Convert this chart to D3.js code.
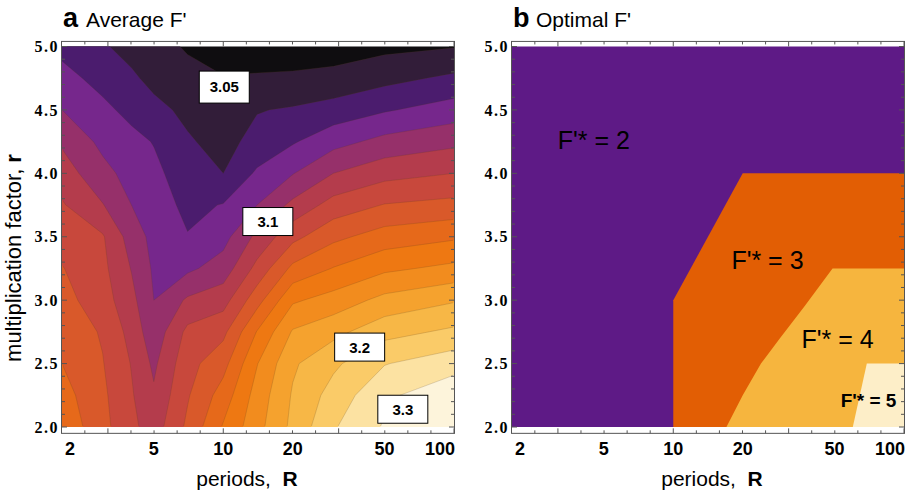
<!DOCTYPE html>
<html>
<head>
<meta charset="utf-8">
<script src="https://cdn.jsdelivr.net/npm/d3@7/dist/d3.min.js"></script>
<style>
  body { margin: 0; background: #ffffff; }
  text { font-family: "Liberation Sans", Arial, Helvetica, sans-serif; fill: #000; }
  .ytick { font-family: "Liberation Serif", "Times New Roman", serif; font-weight: bold; font-size: 16px; letter-spacing: 1.5px; }
  .xtick { font-weight: bold; font-size: 18px; }
  .frame { fill: none; stroke: #555; stroke-width: 1; }
  .tick { stroke: #555; stroke-width: 1; }
</style>
</head>
<body>
<svg id="chart" width="906" height="493"></svg>
<script>
// grid columns (periods R) and rows (multiplication factor r)
var periods = [2, 3, 4, 5, 7, 10, 14, 20, 30, 50, 100];
var factors = [2.0, 2.25, 2.5, 2.75, 3.0, 3.25, 3.5, 3.75, 4.0, 4.25, 4.5, 4.75, 5.0];

// average F', one row per factor (r = 2.0 first), one value per period
var averageF = [
    [3.195, 3.166, 3.145, 3.130, 3.164, 3.202, 3.233, 3.265, 3.298, 3.322, 3.348],
    [3.188, 3.164, 3.142, 3.123, 3.158, 3.189, 3.228, 3.262, 3.288, 3.316, 3.334],
    [3.180, 3.161, 3.139, 3.116, 3.153, 3.173, 3.219, 3.257, 3.276, 3.299, 3.312],
    [3.173, 3.158, 3.133, 3.107, 3.145, 3.155, 3.201, 3.242, 3.254, 3.273, 3.284],
    [3.167, 3.149, 3.126, 3.100, 3.123, 3.132, 3.172, 3.217, 3.228, 3.246, 3.258],
    [3.161, 3.145, 3.119, 3.097, 3.096, 3.109, 3.146, 3.185, 3.201, 3.216, 3.225],
    [3.151, 3.142, 3.111, 3.094, 3.081, 3.093, 3.125, 3.154, 3.175, 3.189, 3.197],
    [3.142, 3.121, 3.100, 3.090, 3.075, 3.081, 3.100, 3.125, 3.148, 3.161, 3.166],
    [3.130, 3.106, 3.093, 3.085, 3.069, 3.060, 3.083, 3.099, 3.120, 3.133, 3.140],
    [3.117, 3.095, 3.086, 3.079, 3.062, 3.054, 3.066, 3.078, 3.093, 3.106, 3.115],
    [3.100, 3.085, 3.074, 3.065, 3.056, 3.048, 3.059, 3.062, 3.068, 3.078, 3.089],
    [3.087, 3.073, 3.063, 3.055, 3.046, 3.041, 3.042, 3.043, 3.046, 3.054, 3.064],
    [3.074, 3.062, 3.054, 3.047, 3.038, 3.030, 3.030, 3.030, 3.030, 3.035, 3.039]
];

var contourLevels = [3.00, 3.04, 3.06, 3.08, 3.10, 3.12, 3.14, 3.16, 3.18,
                     3.20, 3.22, 3.24, 3.26, 3.28, 3.30, 3.32];
var bandColors = ["#0f0d10", "#321d39", "#4b1c6e", "#76278c", "#96306a", "#b43c4c",
                  "#c8483c", "#d9592a", "#e6691a", "#ee7812", "#f28c1e", "#f5a22e",
                  "#f7b746", "#facb68", "#fce2a2", "#fdf4db"];

var averageLabels = [
    {text: "3.05", R: 10.1, r: 4.68},
    {text: "3.1", R: 15.6, r: 3.62},
    {text: "3.2", R: 39, r: 2.63},
    {text: "3.3", R: 60, r: 2.14}
];

// optimal F' (panel b): lower-right region boundaries, closed through (100, 2)
var optimalBounds = [
    {value: 3, points: [[10, 2.0], [10, 3.0], [20, 4.0], [100, 4.0]]},
    {value: 4, points: [[17, 2.0], [20, 2.25], [24, 2.5], [29, 2.7], [37, 2.95], [49, 3.25], [100, 3.25]]},
    {value: 5, points: [[60, 2.0], [69, 2.5], [100, 2.5]]}
];
var optimalColors = {2: "#5e1a86", 3: "#e25e04", 4: "#f6b53e", 5: "#fdeec8"};
var optimalLabels = [
    {text: "F'* = 2", R: 4.53, r: 4.26, big: true},
    {text: "F'* = 3", R: 25.6, r: 3.32, big: true},
    {text: "F'* = 4", R: 51.5, r: 2.69, big: true},
    {text: "F'* = 5", R: 70.2, r: 2.21, big: false}
];

var xTickLabels = [2, 5, 10, 20, 50, 100];
var yTickLabels = [2.0, 2.5, 3.0, 3.5, 4.0, 4.5, 5.0];

var svg = d3.select("#chart");

var yScale = d3.scaleLinear().domain([2, 5]).range([427, 46.5]);
var frameTop = yScale(5.04);
var frameBottom = yScale(1.95);

var xA = d3.scaleLog().domain([2, 100]).range([62, 454]);
var xB = d3.scaleLog().domain([2, 100]).range([512, 904]);

function drawAxes(xScale, letter, title, titleShift) {
    var x0 = xScale.range()[0], x1 = xScale.range()[1];
    var g = svg.append("g");

    // frame
    g.append("rect")
        .attr("class", "frame")
        .attr("x", x0 - 0.5)
        .attr("y", frameTop)
        .attr("width", x1 - x0 + 1)
        .attr("height", frameBottom - frameTop);

    // x frame ticks, every 0.1 in log10(R)
    var logTicks = d3.range(4, 21);
    g.selectAll(".xt-top")
        .data(logTicks)
        .enter().append("line")
        .attr("class", "tick")
        .attr("x1", d => xScale(Math.pow(10, d / 10)))
        .attr("x2", d => xScale(Math.pow(10, d / 10)))
        .attr("y1", frameTop)
        .attr("y2", d => frameTop + (d % 5 === 0 ? 5 : 3));
    g.selectAll(".xt-bottom")
        .data(logTicks)
        .enter().append("line")
        .attr("class", "tick")
        .attr("x1", d => xScale(Math.pow(10, d / 10)))
        .attr("x2", d => xScale(Math.pow(10, d / 10)))
        .attr("y1", frameBottom)
        .attr("y2", d => frameBottom - (d % 5 === 0 ? 5 : 3));

    // y frame ticks, every 0.1 in r
    var rTicks = d3.range(20, 51);
    g.selectAll(".yt-left")
        .data(rTicks)
        .enter().append("line")
        .attr("class", "tick")
        .attr("x1", x0)
        .attr("x2", d => x0 + (d % 5 === 0 ? 5 : 3))
        .attr("y1", d => yScale(d / 10))
        .attr("y2", d => yScale(d / 10));
    g.selectAll(".yt-right")
        .data(rTicks)
        .enter().append("line")
        .attr("class", "tick")
        .attr("x1", x1)
        .attr("x2", d => x1 - (d % 5 === 0 ? 5 : 3))
        .attr("y1", d => yScale(d / 10))
        .attr("y2", d => yScale(d / 10));

    // tick labels
    g.selectAll(".xtick")
        .data(xTickLabels)
        .enter().append("text")
        .attr("class", "xtick")
        .attr("x", (d, i) => xScale(d) + (i === 0 ? 3 : i === xTickLabels.length - 1 ? 1 : 0))
        .attr("y", 455)
        .attr("text-anchor", (d, i) => i === 0 ? "start" : i === xTickLabels.length - 1 ? "end" : "middle")
        .text(d => d);

    g.selectAll(".ytick")
        .data(yTickLabels)
        .enter().append("text")
        .attr("class", "ytick")
        .attr("x", x0 - 3)
        .attr("y", d => yScale(d))
        .attr("dy", "0.35em")
        .attr("text-anchor", "end")
        .text(d3.format(".1f"));

    // panel title
    g.append("text")
        .attr("x", x0 + 1)
        .attr("y", 27)
        .style("font-weight", "bold")
        .style("font-size", "27px")
        .text(letter);
    g.append("text")
        .attr("x", x0 + 24)
        .attr("y", 27)
        .style("font-size", "21px")
        .text(title);

    // x axis title
    var xt = g.append("text")
        .attr("x", (x0 + x1) / 2 + titleShift)
        .attr("y", 486)
        .attr("text-anchor", "middle")
        .style("font-size", "21px");
    xt.append("tspan").text("periods,\u00a0 ");
    xt.append("tspan").style("font-weight", "bold").text("R");
}

// Panel a: filled contours of average F'
var gridValues = [].concat.apply([], averageF);
var bands = d3.contours()
    .size([periods.length, factors.length])
    .thresholds(contourLevels)(gridValues);

var colToLog = d3.scaleLinear().domain(d3.range(periods.length)).range(periods.map(Math.log10));
var rowToR = d3.scaleLinear().domain(d3.range(factors.length)).range(factors);
var gridPath = d3.geoPath(d3.geoTransform({
    point: function(cx, cy) {
        var sx = Math.max(0, Math.min(periods.length - 1, cx - 0.5));
        var sy = Math.max(0, Math.min(factors.length - 1, cy - 0.5));
        this.stream.point(xA(Math.pow(10, colToLog(sx))), yScale(rowToR(sy)));
    }
}));

svg.append("defs").append("clipPath")
    .attr("id", "inner-a")
    .append("rect")
    .attr("x", xA(2) + 1)
    .attr("y", yScale(5) + 1)
    .attr("width", xA(100) - xA(2) - 2)
    .attr("height", yScale(2) - yScale(5) - 2);

svg.append("g")
    .selectAll("path")
    .data(bands)
    .enter().append("path")
    .attr("d", gridPath)
    .attr("fill", (d, i) => bandColors[i]);

// thin contour lines
svg.append("g")
    .attr("clip-path", "url(#inner-a)")
    .selectAll("path")
    .data(bands.slice(1))
    .enter().append("path")
    .attr("d", gridPath)
    .attr("fill", "none")
    .attr("stroke", "rgba(90,60,30,0.28)")
    .attr("stroke-width", 0.7);

// value labels
var labelGroups = svg.append("g")
    .selectAll("g")
    .data(averageLabels)
    .enter().append("g")
    .attr("transform", d => "translate(" + xA(d.R) + "," + yScale(d.r) + ")");
labelGroups.append("rect")
    .attr("x", -25)
    .attr("y", (d, i) => i === 0 ? -16 : -14)
    .attr("width", 50)
    .attr("height", (d, i) => i === 0 ? 32 : 28)
    .attr("fill", "#fff")
    .attr("stroke", "#000")
    .attr("stroke-width", 1);
labelGroups.append("text")
    .attr("text-anchor", "middle")
    .attr("dy", "0.36em")
    .style("font-weight", "bold")
    .style("font-size", "15px")
    .text(d => d.text);

drawAxes(xA, "a", "Average F'", -11);

// y axis title
var yt = svg.append("text")
    .attr("transform", "translate(21,258) rotate(-90)")
    .attr("text-anchor", "middle")
    .style("font-size", "22px");
yt.append("tspan").text("multiplication factor, ");
yt.append("tspan").style("font-weight", "bold").text("r");

// Panel b: optimal F' regions
var regionLine = d3.line()
    .x(d => xB(d[0]))
    .y(d => yScale(d[1]));

svg.append("path")
    .attr("d", regionLine([[2, 2], [2, 5], [100, 5], [100, 2]]) + "Z")
    .attr("fill", optimalColors[2]);

svg.append("g")
    .selectAll("path")
    .data(optimalBounds)
    .enter().append("path")
    .attr("d", d => regionLine(d.points.concat([[100, 2]])) + "Z")
    .attr("fill", d => optimalColors[d.value]);

svg.append("g")
    .selectAll("text")
    .data(optimalLabels)
    .enter().append("text")
    .attr("x", d => xB(d.R))
    .attr("y", d => yScale(d.r))
    .attr("dy", "0.36em")
    .attr("text-anchor", "middle")
    .style("font-size", d => d.big ? "25px" : "19px")
    .style("font-weight", d => d.big ? "normal" : "bold")
    .text(d => d.text);

drawAxes(xB, "b", "Optimal F'", 4);
</script>
</body>
</html>
